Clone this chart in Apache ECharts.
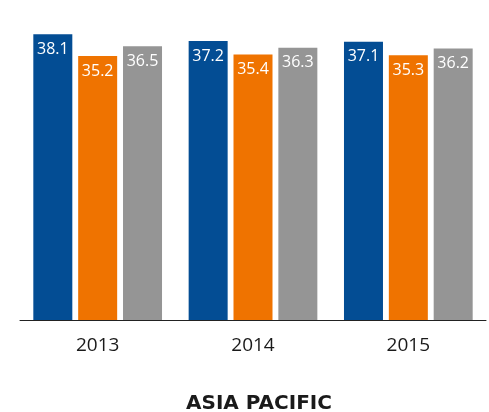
<!DOCTYPE html>
<html lang="en">
<head>
    <meta charset="UTF-8">
    <style>
        html, body { margin: 0; padding: 0; background: #fff; }
        #main { width: 489px; height: 412px; }
    </style>
    <title>Asia Pacific</title>
</head>
<body>
    <div id="main"></div>
    <script src="https://cdn.jsdelivr.net/npm/echarts@6/dist/echarts.min.js"></script>
    <script>
        var years = ['2013', '2014', '2015'];
        var seriesA = [38.1, 37.2, 37.1];
        var seriesB = [35.2, 35.4, 35.3];
        var seriesC = [36.5, 36.3, 36.2];
        var colors = ['#034d94', '#ef7300', '#959595'];

        function bar(data, color) {
            return {
                type: 'bar',
                data: data,
                barWidth: 39,
                barGap: '15%',
                itemStyle: { color: color },
                label: {
                    show: true,
                    position: 'insideTop',
                    distance: 7,
                    color: '#fff',
                    fontFamily: 'Open Sans',
                    fontSize: 16,
                    formatter: function (p) { return p.value.toFixed(1); }
                }
            };
        }

        var option = {
            animation: false,
            title: {
                text: 'ASIA PACIFIC',
                left: 254,
                top: 389,
                textAlign: 'center',
                textStyle: {
                    fontFamily: 'DejaVu Sans',
                    fontWeight: 'bold',
                    fontSize: 20,
                    color: '#1a1a1a'
                }
            },
            grid: { left: 20, right: 3, top: 20, bottom: 92 },
            xAxis: {
                type: 'category',
                data: years,
                axisLine: { lineStyle: { color: '#222', width: 1 } },
                axisTick: { show: false },
                axisLabel: {
                    margin: 16,
                    color: '#1a1a1a',
                    fontFamily: 'Open Sans',
                    fontSize: 19
                }
            },
            yAxis: {
                type: 'value',
                min: 0,
                max: 40,
                show: false,
                splitLine: { show: false }
            },
            series: [
                bar(seriesA, colors[0]),
                bar(seriesB, colors[1]),
                bar(seriesC, colors[2])
            ]
        };

        var myChart = echarts.init(document.getElementById('main'));
        myChart.setOption(option);
    </script>
</body>
</html>
